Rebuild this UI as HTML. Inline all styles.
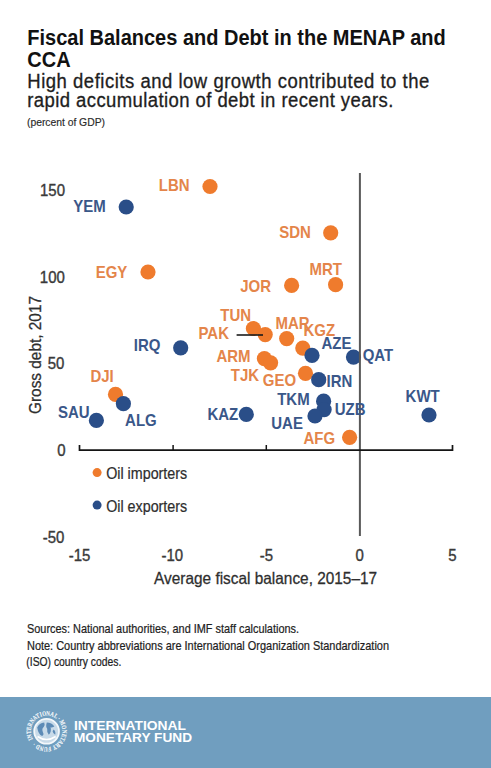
<!DOCTYPE html>
<html><head><meta charset="utf-8"><style>
html,body{margin:0;padding:0;background:#fff;}
body{width:491px;height:768px;overflow:hidden;position:relative;font-family:"Liberation Sans",sans-serif;}
svg{position:absolute;left:0;top:0;display:block;}
</style></head><body>
<svg width="491" height="768" viewBox="0 0 491 768" font-family="Liberation Sans, sans-serif">
<rect x="0" y="0" width="491" height="768" fill="#fff"/>
<g font-weight="bold" font-size="20" fill="#111">
<g transform="translate(27.3 44.8) scale(1 1.07)"><text id="t1" x="0" y="0">Fiscal Balances and Debt in the MENAP and</text></g>
<g transform="translate(27.3 67.4) scale(1 1.07)"><text id="t2" x="0" y="0">CCA</text></g>
</g>
<g font-size="18.5" fill="#1e1e1e" stroke="#1e1e1e" stroke-width="0.3">
<g transform="translate(27.3 87.8) scale(1 1.06)"><text id="s1" x="0" y="0" textLength="402" lengthAdjust="spacing">High deficits and low growth contributed to the</text></g>
<g transform="translate(27.3 107.4) scale(1 1.06)"><text id="s2" x="0" y="0" textLength="366" lengthAdjust="spacing">rapid accumulation of debt in recent years.</text></g>
</g>
<text id="p1" x="27" y="125.5" font-size="10.4" fill="#2a2a2a" stroke="#2a2a2a" stroke-width="0.15" textLength="78" lengthAdjust="spacing">(percent of GDP)</text>
<g font-size="15" fill="#3a3a3a" stroke="#3a3a3a" stroke-width="0.35"><g transform="translate(65.0 196.1) scale(1 1.1)"><text x="0" y="0" text-anchor="end">150</text></g><g transform="translate(64.8 282.6) scale(1 1.1)"><text x="0" y="0" text-anchor="end">100</text></g><g transform="translate(64.4 368.9) scale(1 1.1)"><text x="0" y="0" text-anchor="end">50</text></g><g transform="translate(65.5 455.7) scale(1 1.1)"><text x="0" y="0" text-anchor="end">0</text></g><g transform="translate(64.4 543.1) scale(1 1.1)"><text x="0" y="0" text-anchor="end">-50</text></g><g transform="translate(79.6 560.9) scale(1 1.1)"><text x="0" y="0" text-anchor="middle">-15</text></g><g transform="translate(172.3 560.9) scale(1 1.1)"><text x="0" y="0" text-anchor="middle">-10</text></g><g transform="translate(266.5 560.9) scale(1 1.1)"><text x="0" y="0" text-anchor="middle">-5</text></g><g transform="translate(359.6 560.9) scale(1 1.1)"><text x="0" y="0" text-anchor="middle">0</text></g><g transform="translate(452.4 560.9) scale(1 1.1)"><text x="0" y="0" text-anchor="middle">5</text></g></g>
<g transform="translate(41.2 355) rotate(-90) scale(1 1.12)"><text id="ytitle" x="0" y="0" text-anchor="middle" font-size="15.2" fill="#2e2e2e" stroke="#2e2e2e" stroke-width="0.25" textLength="118" lengthAdjust="spacingAndGlyphs">Gross debt, 2017</text></g>
<g transform="translate(265.6 583.8) scale(1 1.1)"><text id="xtitle" x="0" y="0" text-anchor="middle" font-size="15.2" fill="#2e2e2e" stroke="#2e2e2e" stroke-width="0.25" textLength="223" lengthAdjust="spacingAndGlyphs">Average fiscal balance, 2015–17</text></g>
<circle cx="210" cy="186.5" r="7.6" fill="#EF7B2D"/><circle cx="126.2" cy="207" r="7.6" fill="#2A4E88"/><circle cx="330.7" cy="232.8" r="7.6" fill="#EF7B2D"/><circle cx="148" cy="272" r="7.6" fill="#EF7B2D"/><circle cx="335.6" cy="284.7" r="7.6" fill="#EF7B2D"/><circle cx="291.6" cy="285.4" r="7.6" fill="#EF7B2D"/><circle cx="253.4" cy="328.5" r="7.6" fill="#EF7B2D"/><circle cx="265.2" cy="334.6" r="7.6" fill="#EF7B2D"/><circle cx="286.7" cy="338.6" r="7.6" fill="#EF7B2D"/><circle cx="302.8" cy="348.1" r="7.6" fill="#EF7B2D"/><circle cx="180.7" cy="347.8" r="7.6" fill="#2A4E88"/><circle cx="312.0" cy="355.4" r="7.6" fill="#2A4E88"/><circle cx="353.5" cy="357.1" r="7.6" fill="#2A4E88"/><circle cx="264.4" cy="358.6" r="7.6" fill="#EF7B2D"/><circle cx="270.6" cy="362.8" r="7.6" fill="#EF7B2D"/><circle cx="305.5" cy="373.3" r="7.6" fill="#EF7B2D"/><circle cx="318.7" cy="379.7" r="7.6" fill="#2A4E88"/><circle cx="323.6" cy="401.2" r="7.6" fill="#2A4E88"/><circle cx="324.1" cy="409.6" r="7.6" fill="#2A4E88"/><circle cx="315" cy="416" r="7.6" fill="#2A4E88"/><circle cx="349.6" cy="437.3" r="7.6" fill="#EF7B2D"/><circle cx="429" cy="415" r="7.6" fill="#2A4E88"/><circle cx="246.3" cy="414.4" r="7.6" fill="#2A4E88"/><circle cx="115.5" cy="394.4" r="7.6" fill="#EF7B2D"/><circle cx="123.4" cy="403.7" r="7.6" fill="#2A4E88"/><circle cx="96.4" cy="420.4" r="7.6" fill="#2A4E88"/>
<line x1="236.6" y1="335" x2="263" y2="335" stroke="#1a1a1a" stroke-width="1.6"/>
<line x1="359.9" y1="173" x2="359.9" y2="536" stroke="#595959" stroke-width="2"/>
<path d="M79.5 445 V450.1 H452.5 V445" fill="none" stroke="#141414" stroke-width="1.7"/><line x1="173.1" y1="445" x2="173.1" y2="450" stroke="#141414" stroke-width="1.5"/><line x1="266.3" y1="445" x2="266.3" y2="450" stroke="#141414" stroke-width="1.5"/>
<g font-weight="bold" font-size="15"><g transform="translate(158.8 190.7) scale(1 1.06)"><text class="lab" id="LLBN" x="0" y="0" fill="#E4854A" text-anchor="start">LBN</text></g><g transform="translate(73.2 211.7) scale(1 1.06)"><text class="lab" id="LYEM" x="0" y="0" fill="#3A5789" text-anchor="start">YEM</text></g><g transform="translate(279.3 237.6) scale(1 1.06)"><text class="lab" id="LSDN" x="0" y="0" fill="#E4854A" text-anchor="start">SDN</text></g><g transform="translate(95.7 278.3) scale(1 1.06)"><text class="lab" id="LEGY" x="0" y="0" fill="#E4854A" text-anchor="start">EGY</text></g><g transform="translate(309.5 275.2) scale(1 1.06)"><text class="lab" id="LMRT" x="0" y="0" fill="#E4854A" text-anchor="start">MRT</text></g><g transform="translate(240.2 291.5) scale(1 1.06)"><text class="lab" id="LJOR" x="0" y="0" fill="#E4854A" text-anchor="start">JOR</text></g><g transform="translate(220.3 320.7) scale(1 1.06)"><text class="lab" id="LTUN" x="0" y="0" fill="#E4854A" text-anchor="start">TUN</text></g><g transform="translate(229.0 338.9) scale(1 1.06)"><text class="lab" id="LPAK" x="0" y="0" fill="#E4854A" text-anchor="end">PAK</text></g><g transform="translate(275.5 328.8) scale(1 1.06)"><text class="lab" id="LMAR" x="0" y="0" fill="#E4854A" text-anchor="start">MAR</text></g><g transform="translate(303.5 335.5) scale(1 1.06)"><text class="lab" id="LKGZ" x="0" y="0" fill="#E4854A" text-anchor="start">KGZ</text></g><g transform="translate(321.5 348.9) scale(1 1.06)"><text class="lab" id="LAZE" x="0" y="0" fill="#3A5789" text-anchor="start">AZE</text></g><g transform="translate(362.7 361.1) scale(1 1.06)"><text class="lab" id="LQAT" x="0" y="0" fill="#3A5789" text-anchor="start">QAT</text></g><g transform="translate(133.8 351.3) scale(1 1.06)"><text class="lab" id="LIRQ" x="0" y="0" fill="#3A5789" text-anchor="start">IRQ</text></g><g transform="translate(216.4 361.6) scale(1 1.06)"><text class="lab" id="LARM" x="0" y="0" fill="#E4854A" text-anchor="start">ARM</text></g><g transform="translate(230.8 380.6) scale(1 1.06)"><text class="lab" id="LTJK" x="0" y="0" fill="#E4854A" text-anchor="start">TJK</text></g><g transform="translate(262.8 386.0) scale(1 1.06)"><text class="lab" id="LGEO" x="0" y="0" fill="#E4854A" text-anchor="start">GEO</text></g><g transform="translate(326.6 386.7) scale(1 1.06)"><text class="lab" id="LIRN" x="0" y="0" fill="#3A5789" text-anchor="start">IRN</text></g><g transform="translate(277.2 405.1) scale(1 1.06)"><text class="lab" id="LTKM" x="0" y="0" fill="#3A5789" text-anchor="start">TKM</text></g><g transform="translate(334.7 415.0) scale(1 1.06)"><text class="lab" id="LUZB" x="0" y="0" fill="#3A5789" text-anchor="start">UZB</text></g><g transform="translate(271.3 429.0) scale(1 1.06)"><text class="lab" id="LUAE" x="0" y="0" fill="#3A5789" text-anchor="start">UAE</text></g><g transform="translate(303.5 443.7) scale(1 1.06)"><text class="lab" id="LAFG" x="0" y="0" fill="#E4854A" text-anchor="start">AFG</text></g><g transform="translate(207.4 419.7) scale(1 1.06)"><text class="lab" id="LKAZ" x="0" y="0" fill="#3A5789" text-anchor="start">KAZ</text></g><g transform="translate(405.6 401.5) scale(1 1.06)"><text class="lab" id="LKWT" x="0" y="0" fill="#3A5789" text-anchor="start">KWT</text></g><g transform="translate(90.4 381.5) scale(1 1.06)"><text class="lab" id="LDJI" x="0" y="0" fill="#E4854A" text-anchor="start">DJI</text></g><g transform="translate(57.9 418.0) scale(1 1.06)"><text class="lab" id="LSAU" x="0" y="0" fill="#3A5789" text-anchor="start">SAU</text></g><g transform="translate(125.1 426.2) scale(1 1.06)"><text class="lab" id="LALG" x="0" y="0" fill="#3A5789" text-anchor="start">ALG</text></g></g>
<circle cx="97.1" cy="472.6" r="4.5" fill="#EF7B2D"/>
<circle cx="97.1" cy="505.1" r="4.5" fill="#2A4E88"/>
<g font-size="14.3" fill="#2e2e2e" stroke="#2e2e2e" stroke-width="0.2">
<g transform="translate(106.2 479.2) scale(1 1.1)"><text id="l1" x="0" y="0" textLength="81" lengthAdjust="spacing">Oil importers</text></g>
<g transform="translate(106.2 511.5) scale(1 1.1)"><text id="l2" x="0" y="0" textLength="81" lengthAdjust="spacing">Oil exporters</text></g>
</g>
<g font-size="11" fill="#1e1e1e" stroke="#1e1e1e" stroke-width="0.2">
<g transform="translate(27.0 632.5) scale(1 1.08)"><text id="n1" x="0" y="0" textLength="272" lengthAdjust="spacingAndGlyphs">Sources: National authorities, and IMF staff calculations.</text></g>
<g transform="translate(27.0 649.7) scale(1 1.08)"><text id="n2" x="0" y="0" textLength="362" lengthAdjust="spacingAndGlyphs">Note: Country abbreviations are International Organization Standardization</text></g>
<g transform="translate(26.3 665.8) scale(1 1.08)"><text id="n3" x="0" y="0" textLength="95" lengthAdjust="spacingAndGlyphs">(ISO) country codes.</text></g>
</g>
<rect x="0" y="697" width="491" height="71" fill="#709EBF"/>
<defs>
<path id="rtop" d="M 32.9 739.2 A 15.8 15.8 0 1 1 60.3 739.2 A 15.8 15.8 0 0 1 32.9 739.2"/>
</defs>
<g font-family="Liberation Serif, serif" font-weight="bold" font-size="6.6" fill="#fff" fill-opacity="0.92" stroke="#fff" stroke-width="0.25" stroke-opacity="0.6">
<text textLength="95" lengthAdjust="spacingAndGlyphs"><textPath href="#rtop" startOffset="0" textLength="95" lengthAdjust="spacingAndGlyphs">INTERNATIONAL · MONETARY FUND ·</textPath></text>
</g>
<circle cx="46.6" cy="731.3" r="12.4" fill="#c9dbe9" stroke="#f4f8fb" stroke-width="1.8"/>
<path d="M37.2 727.5 q2 -4.5 7 -5 q1.2 2.8 -0.5 4.6 q-2.2 1.6 -0.8 5.2 q1.5 2.5 -0.8 3.8 q-3.8 -1.8 -4.9 -8.6 z" fill="#5d8bb6"/>
<path d="M46.8 722.6 q5 0.2 7.6 4 q-1.8 1.2 -3.8 0.6 q1.2 4.4 -1.8 7.6 q-2.2 -2.6 -1.6 -6 q-1.8 -2 -0.4 -6.2 z" fill="#5d8bb6"/>
<path d="M53.6 729.5 q2.4 2 1.6 5.2 q-2.2 -1 -2.6 -3.4 z" fill="#5d8bb6"/>
<path d="M37.5 736.5 q9.1 6 18.2 0" fill="none" stroke="#fff" stroke-width="1.5"/>
<g font-weight="bold" font-size="12.5" fill="#fff">
<text id="f1" x="74" y="729.8" textLength="112" lengthAdjust="spacingAndGlyphs">INTERNATIONAL</text>
<text id="f2" x="74" y="742" textLength="118" lengthAdjust="spacingAndGlyphs">MONETARY FUND</text>
</g>
</svg>
</body></html>
